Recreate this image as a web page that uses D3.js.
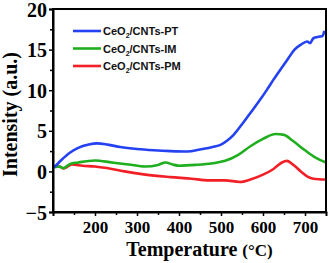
<!DOCTYPE html>
<html>
<head>
<meta charset="utf-8">
<script src="https://cdn.jsdelivr.net/npm/d3@7"></script>
<style>
  body { margin: 0; background: #fff; }
  svg { display: block; }
</style>
</head>
<body>
<script>
// values (temperature in °C, intensity a.u.)
var seriesNames = ["CeO2/CNTs-PT", "CeO2/CNTs-IM", "CeO2/CNTs-PM"];
var seriesColors = ["#2441f2", "#1eae1e", "#f21f26"];

var ptData = [[103,0.5],[120,1.4],[140,2.3],[160,2.9],[185,3.3],[205,3.45],[230,3.3],[260,3.0],[300,2.75],[340,2.6],[380,2.5],[420,2.45],[450,2.7],[480,3.0],[500,3.3],[515,3.8],[530,4.5],[550,5.8],[570,7.2],[590,8.6],[610,10.1],[625,11.3],[645,12.8],[660,13.9],[675,15.0],[690,15.6],[705,16.0],[712,15.8],[720,16.4],[735,16.6],[742,16.7],[746,17.3]];
var imData = [[103,0.5],[115,0.6],[125,0.4],[140,0.9],[160,1.1],[200,1.35],[240,1.1],[280,0.85],[320,0.6],[350,0.8],[368,1.1],[385,0.85],[400,0.7],[440,0.8],[480,1.0],[510,1.3],[540,2.0],[570,3.1],[600,4.0],[630,4.6],[650,4.5],[670,3.8],[700,2.6],[725,1.7],[750,1.1]];
var pmData = [[103,0.6],[115,0.6],[125,0.35],[145,0.85],[170,0.7],[200,0.6],[240,0.3],[270,0.0],[320,-0.4],[380,-0.7],[430,-0.9],[470,-1.1],[510,-1.1],[545,-1.3],[570,-1.0],[600,-0.4],[625,0.3],[645,1.1],[657,1.3],[670,0.9],[690,0.0],[705,-0.6],[720,-0.9],[750,-1.0]];

var xTicks = [200, 300, 400, 500, 600, 700];
var xMinor = [150, 250, 350, 450, 550, 650];
var yTicks = [-5, 0, 5, 10, 15, 20];
var yMinor = [-2.5, 2.5, 7.5, 12.5, 17.5];

var W = 329, H = 263;
var plotL = 53, plotR = 326, plotT = 9, plotB = 212;

var svg = d3.select("body").append("svg")
  .attr("width", W)
  .attr("height", H);

var x = d3.scaleLinear().domain([100, 750]).range([plotL, plotR]);
var y = d3.scaleLinear().domain([-5, 20]).range([plotB, plotT]);

var serif = "'Liberation Serif','Times New Roman',serif";

// curves
var line = d3.line()
  .x(function(d) { return x(d[0]); })
  .y(function(d) { return y(d[1]); })
  .curve(d3.curveMonotoneX);

var allData = [ptData, imData, pmData];
// draw red first, blue on top
[2, 1, 0].forEach(function(i) {
  svg.append("path")
    .datum(allData[i])
    .attr("d", line)
    .attr("fill", "none")
    .attr("stroke", seriesColors[i])
    .attr("stroke-width", 2.6)
    .attr("stroke-linejoin", "round");
});

// frame
svg.append("rect")
  .attr("x", plotL).attr("y", plotT)
  .attr("width", plotR - plotL).attr("height", plotB - plotT)
  .attr("fill", "none").attr("stroke", "#000").attr("stroke-width", 2);

// bottom axis
var xAxis = svg.append("g")
  .attr("transform", "translate(0," + plotB + ")")
  .call(d3.axisBottom(x).tickValues(xTicks).tickSize(4).tickPadding(5));
svg.append("g")
  .attr("transform", "translate(0," + plotB + ")")
  .call(d3.axisBottom(x).tickValues(xMinor).tickSize(3).tickFormat(""))
  .select(".domain").remove();

// left axis
var yAxis = svg.append("g")
  .attr("transform", "translate(" + plotL + ",0)")
  .call(d3.axisLeft(y).tickValues(yTicks).tickSize(4).tickPadding(2));
svg.append("g")
  .attr("transform", "translate(" + plotL + ",0)")
  .call(d3.axisLeft(y).tickValues(yMinor).tickSize(3).tickFormat(""))
  .select(".domain").remove();

svg.selectAll(".domain").attr("stroke-width", 2);
svg.selectAll(".tick line").attr("stroke-width", 1.5);

xAxis.selectAll("text")
  .attr("font-family", serif)
  .attr("font-weight", "bold")
  .attr("font-size", 17)
  .attr("fill", "#000");
yAxis.selectAll("text")
  .attr("font-family", serif)
  .attr("font-weight", "bold")
  .attr("font-size", 20)
  .attr("dy", "0.35em")
  .attr("fill", "#000");

// axis titles
var xt = svg.append("text")
  .attr("x", (plotL + plotR) / 2 + 10)
  .attr("y", 256)
  .attr("text-anchor", "middle")
  .attr("font-family", serif)
  .attr("font-weight", "bold")
  .attr("font-size", 20);
xt.append("tspan").text("Temperature ");
xt.append("tspan").attr("font-size", 17).text("(°C)");

svg.append("text")
  .attr("transform", "translate(17," + ((plotT + plotB) / 2 + 4) + ") rotate(-90)")
  .attr("text-anchor", "middle")
  .attr("font-family", serif)
  .attr("font-weight", "bold")
  .attr("font-size", 20)
  .text("Intensity (a.u.)");

// legend
var legend = svg.append("g");
seriesNames.forEach(function(name, i) {
  var ly = 31 + i * 17.5;
  legend.append("line")
    .attr("x1", 73).attr("x2", 101)
    .attr("y1", ly).attr("y2", ly)
    .attr("stroke", seriesColors[i])
    .attr("stroke-width", 2.6);
  var t = legend.append("text")
    .attr("x", 103)
    .attr("y", ly + 4)
    .attr("font-family", "'Liberation Sans',Arial,sans-serif")
    .attr("font-size", 11)
    .attr("font-weight", "bold")
    .attr("fill", "#111");
  var parts = name.split("2");
  t.append("tspan").text(parts[0]);
  t.append("tspan").attr("font-size", 7).attr("dy", 3).text("2");
  t.append("tspan").attr("dy", -3).text(parts[1]);
});
</script>
</body>
</html>
